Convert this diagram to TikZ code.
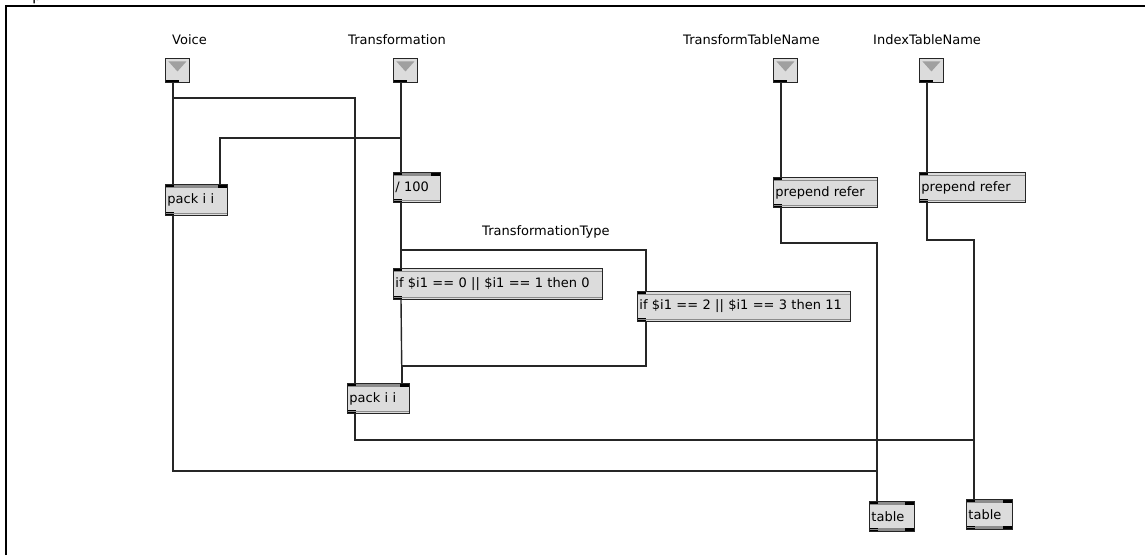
\documentclass[tikz,border=0pt]{standalone}
\usepackage{fontspec}
\setmainfont{DejaVu Sans}
\setmonofont{Liberation Mono}
\usetikzlibrary{positioning,calc}
\definecolor{wirec}{HTML}{262626}
\definecolor{objfill}{HTML}{DCDCDC}
\definecolor{strip}{HTML}{8C8C8C}
\definecolor{tri}{HTML}{A0A0A0}

% inlet/outlet marks of a patcher box: #1 = two inlets, #2 = two outlets
\newcommand{\objdeco}[2]{%
  \fill[black] (path picture bounding box.north west) rectangle ++(9pt,-3.5pt);
  \fill[black] (path picture bounding box.south west) rectangle ++(9pt,3.5pt);
  \draw[strip, line width=0.7pt] ([yshift=-2.6pt]path picture bounding box.north west) -- ([yshift=-2.6pt]path picture bounding box.north east);
  \draw[strip, line width=0.7pt] ([yshift=2.6pt]path picture bounding box.south west) -- ([yshift=2.6pt]path picture bounding box.south east);
  \ifnum#1=1
    \fill[black] (path picture bounding box.north east) rectangle ++(-9pt,-3.5pt);
    \fill[strip] ([xshift=9pt,yshift=-0.8pt]path picture bounding box.north west) rectangle ([xshift=-9pt,yshift=-3pt]path picture bounding box.north east);
  \fi
  \ifnum#2=1
    \fill[black] (path picture bounding box.south east) rectangle ++(-9pt,3.5pt);
    \fill[strip] ([xshift=9pt,yshift=0.8pt]path picture bounding box.south west) rectangle ([xshift=-9pt,yshift=3pt]path picture bounding box.south east);
  \fi}

\begin{document}
\begin{tikzpicture}[
  x=1pt, y=-1pt,
  font=\fontsize{13}{15}\selectfont,
  obj/.style={draw=wirec, line width=0.9pt, fill=objfill, anchor=north west, minimum height=30pt, inner xsep=2pt, inner ysep=0pt, align=left, path picture={\objdeco{0}{0}}},
  obj2/.style={obj, path picture={\objdeco{1}{0}}},
  tab/.style={obj, path picture={\objdeco{1}{1}}},
  inl/.style={draw=wirec, line width=0.9pt, fill=objfill, anchor=north west, minimum width=24pt, minimum height=24pt, inner sep=0pt,
    path picture={
      \fill[tri] ([xshift=3pt,yshift=-3pt]path picture bounding box.north west) -- ([xshift=-3pt,yshift=-3pt]path picture bounding box.north east) -- ([yshift=-13pt]path picture bounding box.north) -- cycle;
      \fill[black] (path picture bounding box.south west) rectangle ++(14pt,2.5pt);
    }},
  lbl/.style={anchor=base west, inner sep=0pt},
  wire/.style={draw=wirec, line width=1.4pt},
]
\useasboundingbox (0,0) rectangle (1145,555);

% ---------- frame ----------
\draw[line width=2pt] (6,555) -- (6,5.6) -- (1145,5.6);
\begin{scope}
  \clip (0,0) rectangle (1145,4.6);
  \node[font=\ttfamily\fontsize{16}{16}\selectfont, lbl] (pfrag) at (32,0) {p};
\end{scope}

% ---------- comments ----------
\node[lbl] (lVoice) at (172,44) {Voice};
\node[lbl] (lTrans) at (348,44) {Transformation};
\node[lbl] (lTTN)   at (683,44) {TransformTableName};
\node[lbl] (lITN)   at (873,44) {IndexTableName};
\node[lbl] (lTT)    at (482,235) {TransformationType};

% ---------- inlets ----------
\node[inl] (inVoice) at (165,58) {};
\node[inl] (inTrans) at (393,58) {};
\node[inl] (inTTN)   at (773,58) {};
\node[inl] (inITN)   at (919,58) {};

% ---------- objects ----------
\node[obj2, text width=58pt, minimum height=31pt] (packA) at (165,184) {pack i i};
\node[obj2, text width=43pt] (div)   at (393,172) {/ 100};
\node[obj,  text width=100pt] (prepA) at (773,177) {prepend refer};
\node[obj,  text width=102pt] (prepB) at (919,172) {prepend refer};
\node[obj,  text width=205pt, minimum height=31pt] (ifA) at (393,268) {if \$i1 == 0 || \$i1 == 1 then 0};
\node[obj,  text width=209pt] (ifB)   at (637,291) {if \$i1 == 2 || \$i1 == 3 then 11};
\node[obj2, text width=58pt] (packB) at (347,383) {pack i i};
\node[tab,  text width=41pt] (tabA)  at (869,501) {table};
\node[tab,  text width=42pt] (tabB)  at (966,499) {table};

% ---------- patch cords ----------
% Voice
\draw[wire] ([xshift=8pt]inVoice.south west) -- ([xshift=8pt]packA.north west);
\draw[wire] ([xshift=8pt,yshift=-15pt]inVoice.south west) -| ([xshift=8pt]packB.north west);
% Transformation
\draw[wire] ([xshift=8pt]inTrans.south west) -- ([xshift=8pt]div.north west);
\draw[wire] ([xshift=8pt,yshift=-55pt]inTrans.south west) -| ([xshift=-8pt]packA.north east);
\draw[wire] ([xshift=8pt]div.south west) -- ([xshift=8pt]ifA.north west);
\draw[wire] ([xshift=8pt,yshift=-47pt]div.south west) -| ([xshift=9pt]ifB.north west);
\draw[wire] ([xshift=8pt]ifA.south west) -- ([xshift=-8pt]packB.north east);
\draw[wire] ([xshift=9pt]ifB.south west) -- ++(0,44) -| ([xshift=-8pt]packB.north east);
% table names
\draw[wire] ([xshift=8pt]inTTN.south west) -- ([xshift=8pt]prepA.north west);
\draw[wire] ([xshift=8pt]inITN.south west) -- ([xshift=8pt]prepB.north west);
\draw[wire] ([xshift=8pt]prepA.south west) -- ++(0,35) -| ([xshift=8pt]tabA.north west);
\draw[wire] ([xshift=8pt]prepB.south west) -- ++(0,37) -| ([xshift=8pt]tabB.north west);
% into the tables
\draw[wire] ([xshift=8pt]packA.south west) -- ++(0,255) -| ([xshift=8pt]tabA.north west);
\draw[wire] ([xshift=8pt]packB.south west) -- ++(0,26) -| ([xshift=8pt]tabB.north west);

\end{tikzpicture}
\end{document}
